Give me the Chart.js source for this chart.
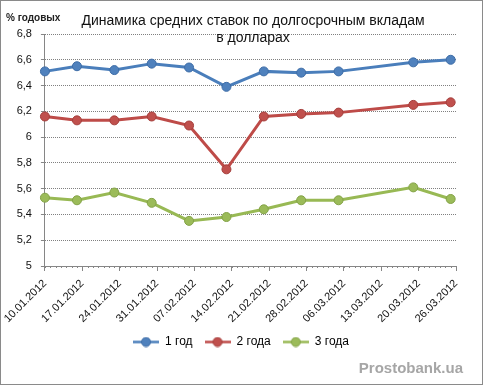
<!DOCTYPE html>
<html><head><meta charset="utf-8">
<script src="https://cdn.jsdelivr.net/npm/chart.js@4/dist/chart.umd.min.js"></script>
<style>
html,body{margin:0;padding:0;background:#fff;}
#wrap{position:relative;width:483px;height:385px;overflow:hidden;}
#c{position:absolute;left:0;top:0;}
.frame{position:absolute;left:0;top:0;width:483px;height:385px;box-sizing:border-box;border:1px solid #8a8a8a;pointer-events:none;}
.title{position:absolute;left:53px;width:400px;top:12px;text-align:center;font:14px "Liberation Sans",sans-serif;line-height:17px;color:#111;white-space:nowrap;}
.unit{position:absolute;left:6px;top:12px;font:bold 10px "Liberation Sans",sans-serif;line-height:12px;color:#222;}
.wm{position:absolute;right:20px;top:359px;font:bold 15px "Liberation Sans",sans-serif;line-height:17px;color:#a6a6a6;}
</style></head>
<body>
<div id="wrap">
<canvas id="c" width="483" height="385"></canvas>
<div class="title">Динамика средних ставок по долгосрочным вкладам<br>в долларах</div>
<div class="unit">% годовых</div>
<div class="wm">Prostobank.ua</div>
<div class="frame"></div>
</div>
<script>
const seriesNames = ['1 год', '2 года', '3 года'];
const dates = ['10.01.2012','16.01.2012','23.01.2012','30.01.2012','06.02.2012','13.02.2012','20.02.2012','27.02.2012','05.03.2012','19.03.2012','26.03.2012'];
const oneYear = [6.51, 6.55, 6.52, 6.57, 6.54, 6.39, 6.51, 6.50, 6.51, 6.58, 6.60];
const twoYears = [6.16, 6.13, 6.13, 6.16, 6.09, 5.75, 6.16, 6.18, 6.19, 6.25, 6.27];
const threeYears = [5.53, 5.51, 5.57, 5.49, 5.35, 5.38, 5.44, 5.51, 5.51, 5.61, 5.52];
const xTickLabels = ['10.01.2012','17.01.2012','24.01.2012','31.01.2012','07.02.2012','14.02.2012','21.02.2012','28.02.2012','06.03.2012','13.03.2012','20.03.2012','26.03.2012'];
const yTickLabels = ['5','5,2','5,4','5,6','5,8','6','6,2','6,4','6,6','6,8'];

function parseDate(s){const p=s.split('.');return Date.UTC(+p[2],+p[1]-1,+p[0]);}
const t0 = parseDate(dates[0]);
const dayOf = s => Math.round((parseDate(s)-t0)/86400000);
const xs = dates.map(dayOf);

const lineColors = ['#4A7EBB','#BE4B48','#98B954'];
const fillColors = ['#4F81BD','#C0504D','#9BBB59'];
const edgeColors = ['#3D6CA6','#A43E3B','#83A247'];

function icon(i){
  const c=document.createElement('canvas');c.width=26;c.height=11;
  const g=c.getContext('2d');
  g.strokeStyle=lineColors[i];g.lineWidth=2.5;g.beginPath();g.moveTo(0,5.5);g.lineTo(26,5.5);g.stroke();
  g.fillStyle=fillColors[i];g.strokeStyle=edgeColors[i];g.lineWidth=1;
  g.beginPath();g.arc(13,5.5,4.5,0,Math.PI*2);g.fill();g.stroke();
  return c;
}
const icons=[0,1,2].map(icon);

const FONT='"Liberation Sans", sans-serif';
const series=[oneYear,twoYears,threeYears];
const datasets=series.map((s,i)=>({
  label:seriesNames[i],
  data:s.map((v,j)=>({x:xs[j],y:v})),
  borderColor:lineColors[i],
  backgroundColor:fillColors[i],
  pointBackgroundColor:fillColors[i],
  pointBorderColor:edgeColors[i],
  pointBorderWidth:1,
  pointRadius:4.5,
  borderWidth:3,
  tension:0,
  clip:false
}));

const minorTicks={
  id:'minorTicks',
  afterDraw(chart){
    const xs=chart.scales.x, ctx=chart.ctx, y=xs.top;
    ctx.save();ctx.strokeStyle='#868686';ctx.lineWidth=1;
    for(let d=0;d<=77;d++){
      const x=Math.round(xs.getPixelForValue(d))+0.5;
      ctx.beginPath();ctx.moveTo(x,y);ctx.lineTo(x,y+2);ctx.stroke();
    }
    ctx.restore();
  }
};
const legendShift={
  id:'legendShift',
  afterLayout(chart){ if(chart.legend){chart.legend.left+=26;} }
};

new Chart(document.getElementById('c'),{
  type:'line',
  data:{datasets},
  plugins:[minorTicks,legendShift],
  options:{
    responsive:false,animation:false,
    layout:{padding:{left:0,right:27,top:34,bottom:27}},
    plugins:{
      title:{display:false},
      tooltip:{enabled:false},
      legend:{
        position:'bottom',
        labels:{
          font:{family:FONT,size:12},color:'#000',
          usePointStyle:true,pointStyleWidth:26,padding:12,
          generateLabels(chart){
            return Chart.defaults.plugins.legend.labels.generateLabels(chart).map((l,i)=>Object.assign(l,{pointStyle:icons[i]}));
          }
        }
      }
    },
    scales:{
      x:{
        type:'linear',min:0,max:77,
        afterBuildTicks(scale){scale.ticks=xTickLabels.map((_,i)=>({value:i*7}));},
        afterFit(scale){scale.height=58;},
        ticks:{autoSkip:false,minRotation:45,maxRotation:45,padding:6,color:'#111',font:{family:FONT,size:11},
          callback:(v,i)=>xTickLabels[i]},
        grid:{drawOnChartArea:false,drawTicks:true,tickLength:5,color:'#868686'},
        border:{display:true,color:'#868686',width:1}
      },
      y:{
        min:5,max:6.8,
        afterBuildTicks(scale){scale.ticks=yTickLabels.map((_,i)=>({value:+(5+i*0.2).toFixed(1)}));},
        afterFit(scale){scale.width=44;},
        ticks:{padding:9,color:'#111',font:{family:FONT,size:11},callback:(v,i)=>yTickLabels[i]},
        grid:{color:'#808080',lineWidth:1,tickLength:4,tickColor:'#868686',tickBorderDash:[]},
        border:{display:true,color:'#868686',width:1,dash:[1,1]}
      }
    }
  }
});
</script>
</body></html>
